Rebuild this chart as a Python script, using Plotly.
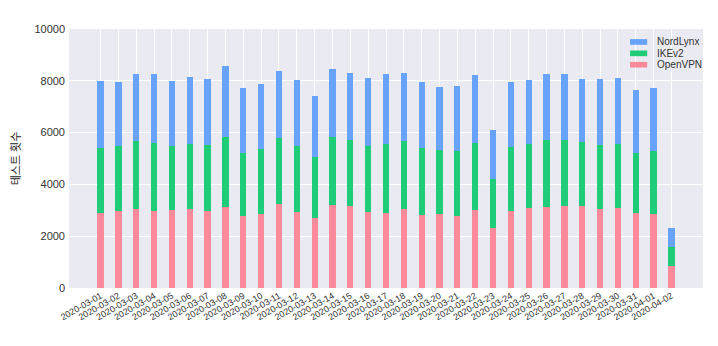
import plotly.graph_objects as go
import pandas as pd

dates = [d.strftime("%Y-%m-%d") for d in pd.date_range("2020-03-01", "2020-04-02")]

total = [8000, 7950, 8280, 8280, 7990, 8150, 8080, 8580, 7720, 7870, 8390,
         8040, 7420, 8470, 8310, 8100, 8260, 8290, 7970, 7770, 7810, 8220,
         6110, 7970, 8040, 8260, 8260, 8080, 8080, 8100, 7630, 7740, 2330]
ike_top = [5410, 5470, 5670, 5610, 5480, 5570, 5530, 5840, 5230, 5350, 5810,
           5490, 5050, 5840, 5720, 5490, 5570, 5670, 5400, 5310, 5290, 5580,
           4200, 5450, 5570, 5700, 5700, 5620, 5530, 5570, 5230, 5290, 1600]
openvpn = [2890, 2960, 3050, 2980, 3020, 3050, 2980, 3130, 2790, 2840, 3250,
           2950, 2690, 3220, 3150, 2920, 2890, 3040, 2800, 2870, 2780, 3020,
           2320, 2980, 3100, 3130, 3150, 3180, 3050, 3100, 2890, 2840, 860]
ikev2 = [b - a for a, b in zip(openvpn, ike_top)]
nordlynx = [c - b for b, c in zip(ike_top, total)]

series = [("OpenVPN", openvpn, "#fc8a9b"),
          ("IKEv2", ikev2, "#1fcd78"),
          ("NordLynx", nordlynx, "#68a3fb")]

yticks = [0, 2000, 4000, 6000, 8000, 10000]

FONT = "Liberation Sans, Arial, Noto Sans CJK KR, sans-serif"

fig = go.Figure()
for name, vals, col in series:
    fig.add_trace(go.Bar(x=dates, y=vals, name=name, marker_color=col,
                         marker_line_width=0, width=0.35, showlegend=False))

# custom compact legend (matplotlib style), top-right inside the axes
legend_rows = list(reversed(series))
for i, (name, vals, col) in enumerate(legend_rows):
    yc = 0.95 - i * 0.044
    fig.add_shape(type="rect", xref="paper", yref="paper",
                  x0=0.885, x1=0.912, y0=yc - 0.011, y1=yc + 0.011,
                  fillcolor=col, line_width=0)
    fig.add_annotation(xref="paper", yref="paper", x=0.925, y=yc,
                       text=name, showarrow=False, xanchor="left", yanchor="middle",
                       font=dict(size=10, color="#333333"))

fig.update_layout(
    barmode="stack",
    width=718, height=346,
    margin=dict(l=69, r=15, t=29, b=58),
    paper_bgcolor="white",
    plot_bgcolor="#eaeaf2",
    font=dict(family=FONT, color="#333333", size=11),
    showlegend=False,
)
fig.update_xaxes(type="category", range=[-1.77, 33.77], tickangle=-30,
                 tickfont=dict(size=9, color="#333333"),
                 showgrid=True, gridcolor="white", gridwidth=1,
                 zeroline=False, showline=False, ticks="")
fig.update_yaxes(range=[0, 10000], tickvals=yticks, ticktext=[str(v) for v in yticks],
                 tickfont=dict(size=11, color="#333333"),
                 showgrid=True, gridcolor="white", gridwidth=1,
                 zeroline=False, showline=False, ticks="", ticklabelstandoff=3,
                 title=dict(text="테스트 횟수", font=dict(size=11, color="#222222"),
                            standoff=11))

fig.write_html("out.html")
